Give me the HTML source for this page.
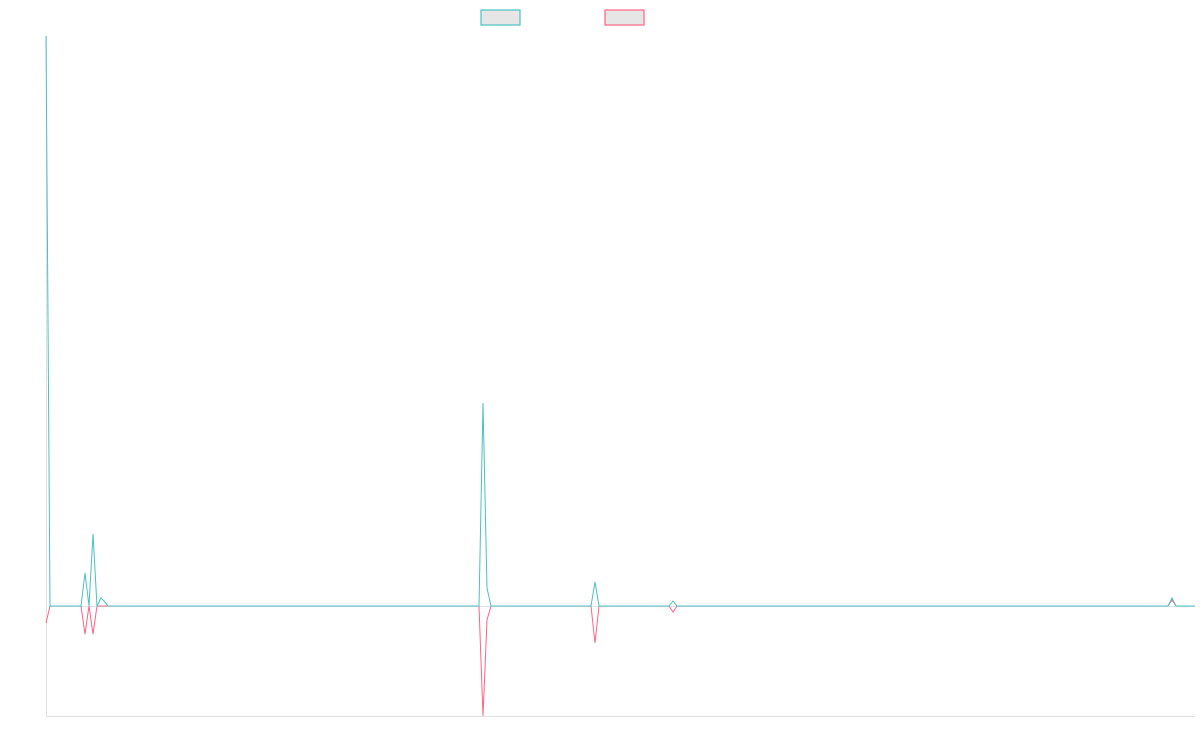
<!DOCTYPE html>
<html><head><meta charset="utf-8"><style>html,body{margin:0;padding:0;background:#fff;}</style></head>
<body>
<svg width="1200" height="750" xmlns="http://www.w3.org/2000/svg">
<line x1="46.5" y1="36" x2="46.5" y2="716" stroke="#e0e0e0" stroke-width="1"/>
<line x1="46" y1="716.5" x2="1195" y2="716.5" stroke="#e0e0e0" stroke-width="1"/>
<rect x="481" y="10" width="39" height="15" fill="#e6e6e6" stroke="#4bc0c0" stroke-width="1.2"/>
<rect x="605" y="10" width="39" height="15" fill="#e6e6e6" stroke="#ff6384" stroke-width="1.2"/>
<polyline fill="none" stroke="#ff6384" stroke-width="1" points="46,623 50,606 81,606 85,634 89,606 93,634 97,606 479,606 483,716 487,620 491,606 591,606 595,643 599,606 669,606 673,612 677,606 1168,606 1172,600 1176,606 1195,606"/>
<polyline fill="none" stroke="#4bc0c0" stroke-width="1" points="46,36 50,606 81,606 85,573 89,606 93,534 97,606 101,598 104,601 108,606 479,606 483,403 487,588 491,606 591,606 595,582 599,606 669,606 673,601 677,606 1168,606 1172,598 1176,606 1195,606"/>
<line x1="50" y1="606.5" x2="1195" y2="606.5" stroke="#8aa7b0" stroke-width="0.6" opacity="0.6"/>
</svg>
</body></html>
